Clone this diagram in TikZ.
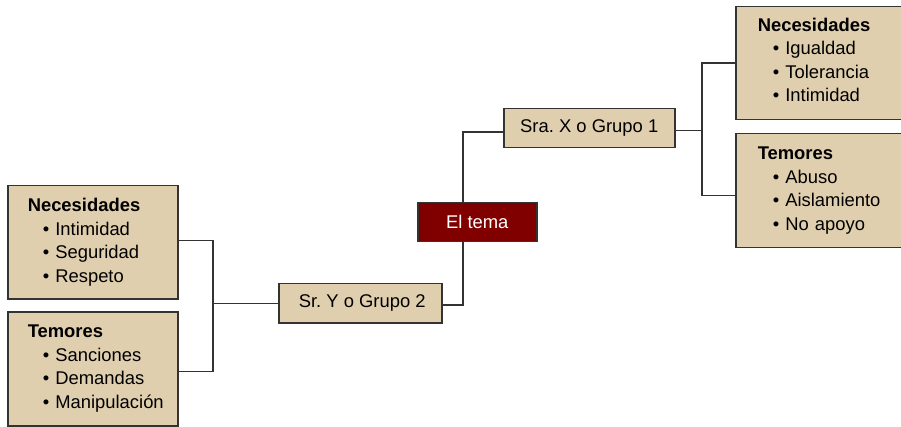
\documentclass[tikz,border=0pt]{standalone}
\usepackage{fontspec}
\setmainfont{Liberation Sans}
\frenchspacing
\definecolor{tan}{RGB}{224,207,174}
\definecolor{maroon}{RGB}{128,0,0}
\definecolor{edge}{RGB}{51,51,51}
\newcommand{\itm}[1]{\mbox{\hspace*{15pt}•~#1}}
\begin{document}
\begin{tikzpicture}[x=1pt,y=-1pt,
  every node/.style={font=\fontsize{18.4}{23.5}\selectfont},
  box/.style={draw=edge,line width=1.5pt,fill=tan,inner sep=0pt,anchor=north west},
  listbox/.style={box,align=left,inner xsep=#1},
  conn/.style={draw=edge,line width=1.5pt}]
\useasboundingbox (0,0) rectangle (901,427);
% left boxes
\node[listbox=20,text width=130,minimum height=113] (ln) at (7,185)
  {\textbf{Necesidades}\\\itm{Intimidad}\\\itm{Seguridad}\\\itm{Respeto}};
\node[listbox=20,text width=130,minimum height=114] (lt) at (7,311)
  {\textbf{Temores}\\\itm{Sanciones}\\\itm{Demandas}\\\itm{Manipulación}};
% right boxes
\node[listbox=22,text width=122,minimum height=113] (rn) at (735,6)
  {\textbf{Necesidades}\\\itm{Igualdad}\\\itm{Tolerancia}\\\itm{Intimidad}\strut};
\node[listbox=22,text width=122,minimum height=114] (rt) at (735,133)
  {\textbf{Temores}\\\itm{Abuso}\\\itm{Aislamiento}\\\itm{No apoyo}};
% middle boxes
\node[box,minimum width=163,minimum height=39] (sry) at (278,283) {\hspace*{4pt}Sr. Y o Grupo 2};
\node[box,minimum width=171,minimum height=39] (srx) at (503,108) {Sra. X o Grupo 1};
\node[box,fill=maroon,text=white,minimum width=119,minimum height=39] (tema) at (417,202) {El tema};
% connectors
\coordinate (jl) at ([xshift=-65]sry.west);
\draw[conn] ([yshift=1.5]ln.east) -| (jl) |- ([yshift=-2.5]lt.east);
\draw[conn] (jl) -- (sry.west);
\draw[conn] ([xshift=-14.5]tema.north) |- ([yshift=-4]srx.west);
\draw[conn] ([xshift=-14.5]tema.south) |- ([yshift=-1.5]sry.east);
\coordinate (jr) at ([xshift=26.5,yshift=-2.5]srx.east);
\draw[conn] ([yshift=-2.5]srx.east) -- (jr);
\draw[conn] (rn.west) -| (jr) |- ([yshift=-5]rt.west);
\end{tikzpicture}
\end{document}
